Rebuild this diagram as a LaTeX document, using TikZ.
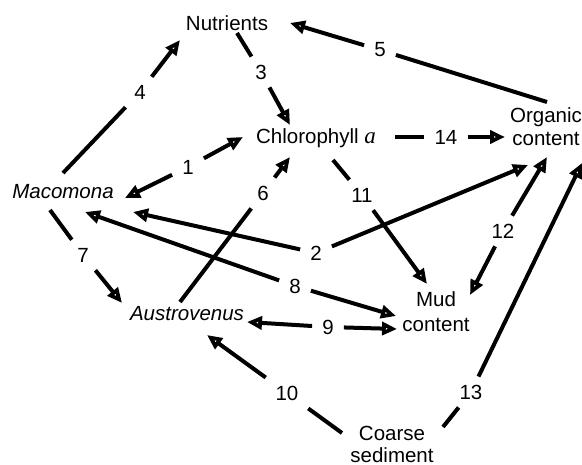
\documentclass[tikz,border=0pt]{standalone}
\usepackage{fontspec}
\setmainfont{Liberation Sans}
\newfontfamily\serifit{Liberation Serif}
\usetikzlibrary{arrows.meta,calc}
\begin{document}
\begin{tikzpicture}[x=1pt,y=-1pt,
  every node/.style={font=\fontsize{20.5}{23}\selectfont, inner sep=0pt},
  txt/.style={align=center},
  lab/.style={inner xsep=10pt, inner ysep=8pt},
  con/.style={line width=4pt},
  arr/.style={line width=4pt, -{Triangle[open, length=15pt, width=13pt, line width=5pt]}}]
\useasboundingbox (0,0) rectangle (582,465);

% main nodes
\node[anchor=base] (nut) at (227,31) {Nutrients};
\node[anchor=base] (chl) at (316,144) {Chlorophyll {\serifit\itshape\fontsize{23}{23}\selectfont a}};
\node[txt] (org) at (546,127) {Organic\\content};
\node[anchor=base] (mac) at (63,199) {\itshape Macomona};
\node[anchor=base] (aus) at (187,321) {\itshape Austrovenus};
\node[txt] (mud) at (436,312) {Mud\\[2pt]content};
\node[txt] (coarse) at (392,444) {Coarse\\[-1pt]sediment};

% labels
\node[lab] (l1) at (188,167) {1};
\node[lab] (l2) at (316,253) {2};
\node[lab] (l3) at (261,72) {3};
\node[lab] (l4) at (140,92) {4};
\node[lab] (l5) at (380,50) {5};
\node[lab] (l6) at (263,193) {6};
\node[lab] (l7) at (83,255) {7};
\node[lab] (l8) at (295,286) {8};
\node[lab] (l9) at (328,327) {9};
\node[lab] (l10) at (287,393) {10};
\node[lab] (l11) at (362,195) {11};
\node[lab] (l12) at (503,231) {12};
\node[lab] (l13) at (471,392) {13};
\node[lab] (l14) at (446,137) {14};

% connectors
\draw[arr] (l1) -- ($(mac.base)+(62,-1)$);
\draw[arr] (l1) -- ($(chl.base)+(-73,-7)$);
\draw[arr] (l2) -- ($(mac.base)+(70,13)$);
\draw[arr] (l2) -- ($(org)+(-18,38)$);
\draw[con] ($(nut.base)+(10,2)$) -- (l3);
\draw[arr] (l3) -- ($(chl.base)+(-26,-19)$);
\draw[con] ($(mac.base)+(0,-26)$) -- (l4);
\draw[arr] (l4) -- ($(nut.base)+(-47,9)$);
\draw[con] ($(org)+(1,-25)$) -- (l5);
\draw[arr] (l5) -- ($(nut.base)+(63,-8)$);
\draw[con] ($(aus.base)+(-7,-19)$) -- (l6);
\draw[arr] (l6) -- ($(chl.base)+(-26,13)$);
\draw[con] ($(mac.base)+(-13,11)$) -- (l7);
\draw[arr] (l7) -- ($(aus.base)+(-65,-18)$);
\draw[arr] (l8) -- ($(mac.base)+(22,13)$);
\draw[arr] (l8) -- ($(mud)+(-40,4)$);
\draw[arr] (l9) -- ($(aus.base)+(60,1)$);
\draw[arr] (l9) -- ($(mud)+(-39,17)$);
\draw[con] ($(coarse)+(-50,-11)$) -- (l10);
\draw[arr] (l10) -- ($(aus.base)+(20,14)$);
\draw[con] ($(chl.base)+(17,16)$) -- (l11);
\draw[arr] (l11) -- ($(mud)+(-9,-28)$);
\draw[arr] (l12) -- ($(org)+(1,30)$);
\draw[arr] (l12) -- ($(mud)+(34,-17)$);
\draw[con] ($(coarse)+(51,-17)$) -- (l13);
\draw[arr] (l13) -- ($(org)+(36,36)$);
\draw[con] ($(chl.base)+(79,-7)$) -- (l14);
\draw[arr] (l14) -- ($(org)+(-41,10)$);
\end{tikzpicture}
\end{document}
